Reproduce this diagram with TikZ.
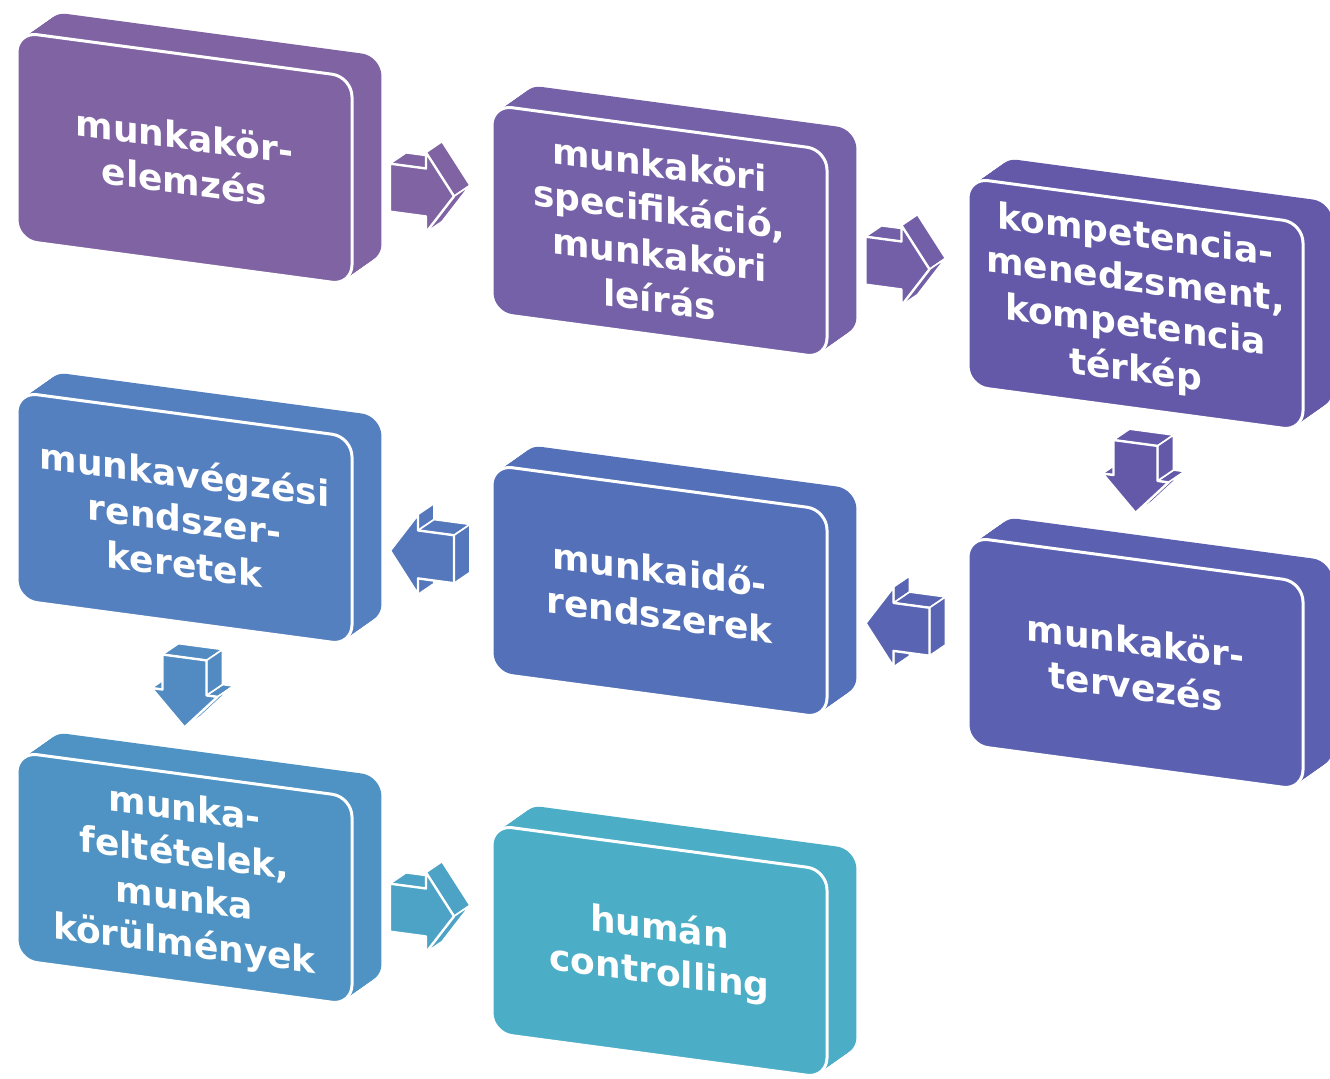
\documentclass[tikz,border=0pt]{standalone}
\usepackage{fontspec}
\setmainfont{DejaVu Sans}

\definecolor{boxA}{HTML}{7F63A2}
\definecolor{boxB}{HTML}{7561A7}
\definecolor{boxC}{HTML}{6459A9}
\definecolor{boxD}{HTML}{5580BF}
\definecolor{boxE}{HTML}{5370B8}
\definecolor{boxF}{HTML}{5B60B1}
\definecolor{boxG}{HTML}{4E93C3}
\definecolor{boxH}{HTML}{4BADC6}

\tikzset{
  front/.style={draw=white, line width=1.5pt, rounded corners=10pt,
    minimum width=167.5pt, minimum height=104pt, inner sep=0pt,
    text width=162pt, align=center, text=white,
    font=\fontsize{18}{22.5}\selectfont\bfseries, transform shape},
  facet/.style={draw=white, line width=0.8pt, line join=round},
}

% box with its depth: name, x, y, colour, text
\newcommand{\blockbox}[5]{
  \begin{scope}[shift={(#2,#3)}, yslant=-0.134]
    \foreach \t in {0,0.05,...,1}
      \fill[#4, rounded corners=10pt] (31*\t,-26*\t) rectangle ++(335,208);
    \node[front, fill=#4] (#1) at (167.5,104) {#5};
  \end{scope}
}

% block arrows: place, colour
\newcommand{\arrowright}[2]{
  \begin{scope}[shift={(#1)}, yslant=-0.134, fill=#2]
    \filldraw[facet] (-32,-27) -- (4,-27) -- (20,-40) -- (-16,-40) -- cycle;
    \filldraw[facet] (4,-43) -- (32,-3) -- (48,-16) -- (20,-56) -- cycle;
    \filldraw[facet] (32,-3) -- (4,37) -- (20,24) -- (48,-16) -- cycle;
    \filldraw[facet, line width=1.2pt] (-32,-27) -- (4,-27) -- (4,-43) -- (32,-3)
      -- (4,37) -- (4,21) -- (-32,21) -- cycle;
  \end{scope}
}
\newcommand{\arrowleft}[2]{
  \begin{scope}[shift={(#1)}, yslant=-0.134, fill=#2]
    \filldraw[facet] (-4,-40) -- (-4,-24) -- (12,-37) -- (12,-53) -- cycle;
    \filldraw[facet] (-4,24) -- (-4,40) -- (12,27) -- (12,11) -- cycle;
    \filldraw[facet] (-4,-24) -- (32,-24) -- (48,-37) -- (12,-37) -- cycle;
    \filldraw[facet] (32,-24) -- (32,24) -- (48,11) -- (48,-37) -- cycle;
    \filldraw[facet, line width=1.2pt] (-32,0) -- (-4,-40) -- (-4,-24) -- (32,-24)
      -- (32,24) -- (-4,24) -- (-4,40) -- cycle;
  \end{scope}
}
\newcommand{\arrowdown}[2]{
  \begin{scope}[shift={(#1)}, yslant=-0.134, fill=#2]
    \filldraw[facet] (-33,-6) -- (-22,-6) -- (-6,-19) -- (-17,-19) -- cycle;
    \filldraw[facet] (22,-6) -- (33,-6) -- (49,-19) -- (38,-19) -- cycle;
    \filldraw[facet] (-22,-41) -- (22,-41) -- (38,-54) -- (-6,-54) -- cycle;
    \filldraw[facet] (22,-41) -- (22,-6) -- (38,-19) -- (38,-54) -- cycle;
    \filldraw[facet] (33,-6) -- (0,29) -- (16,16) -- (49,-19) -- cycle;
    \filldraw[facet, line width=1.2pt] (-22,-41) -- (22,-41) -- (22,-6) -- (33,-6)
      -- (0,29) -- (-33,-6) -- (-22,-6) -- cycle;
  \end{scope}
}

\begin{document}
\begin{tikzpicture}[x=0.5pt, y=-0.5pt]
  \useasboundingbox (0,0) rectangle (1330,1078);

  \blockbox{elemzes}{17}{32}{boxA}{munkakör-\\elemzés}
  \blockbox{leiras}{492}{105}{boxB}{munkaköri\\specifikáció,\\munkaköri\\leírás}
  \blockbox{terkep}{968}{178}{boxC}{kompetencia-\\menedzsment,\\kompetencia\\térkép}
  \blockbox{keretek}{17}{392}{boxD}{munkavégzési\\rendszer-\\keretek}
  \blockbox{munkaido}{492}{465}{boxE}{munkaidő-\\rendszerek}
  \blockbox{tervezes}{968}{537}{boxF}{munkakör-\\tervezés}
  \blockbox{feltetelek}{17}{752}{boxG}{munka-\\feltételek,\\munka\\körülmények}
  \blockbox{controlling}{492}{825}{boxH}{humán\\controlling}

  % arrows between the boxes
  \path (elemzes.east) -- (leiras.west) coordinate[midway] (a-el-le);
  \path (leiras.east) -- (terkep.west) coordinate[midway] (a-le-te);
  \path (terkep.south) -- (tervezes.north) coordinate[midway] (a-te-tv);
  \path (tervezes.west) -- (munkaido.east) coordinate[midway] (a-tv-mi);
  \path (munkaido.west) -- (keretek.east) coordinate[midway] (a-mi-ke);
  \path (keretek.south) -- (feltetelek.north) coordinate[midway] (a-ke-fe);
  \path (feltetelek.east) -- (controlling.west) coordinate[midway] (a-fe-co);

  \arrowright{a-el-le}{boxA}
  \arrowright{a-le-te}{boxB!80!boxC}
  \arrowdown{a-te-tv}{boxC}
  \arrowleft{a-tv-mi}{boxF!70!boxE}
  \arrowleft{a-mi-ke}{boxE!50!boxD}
  \arrowdown{a-ke-fe}{boxD!40!boxG}
  \arrowright{a-fe-co}{boxG!40!boxH}
\end{tikzpicture}
\end{document}
